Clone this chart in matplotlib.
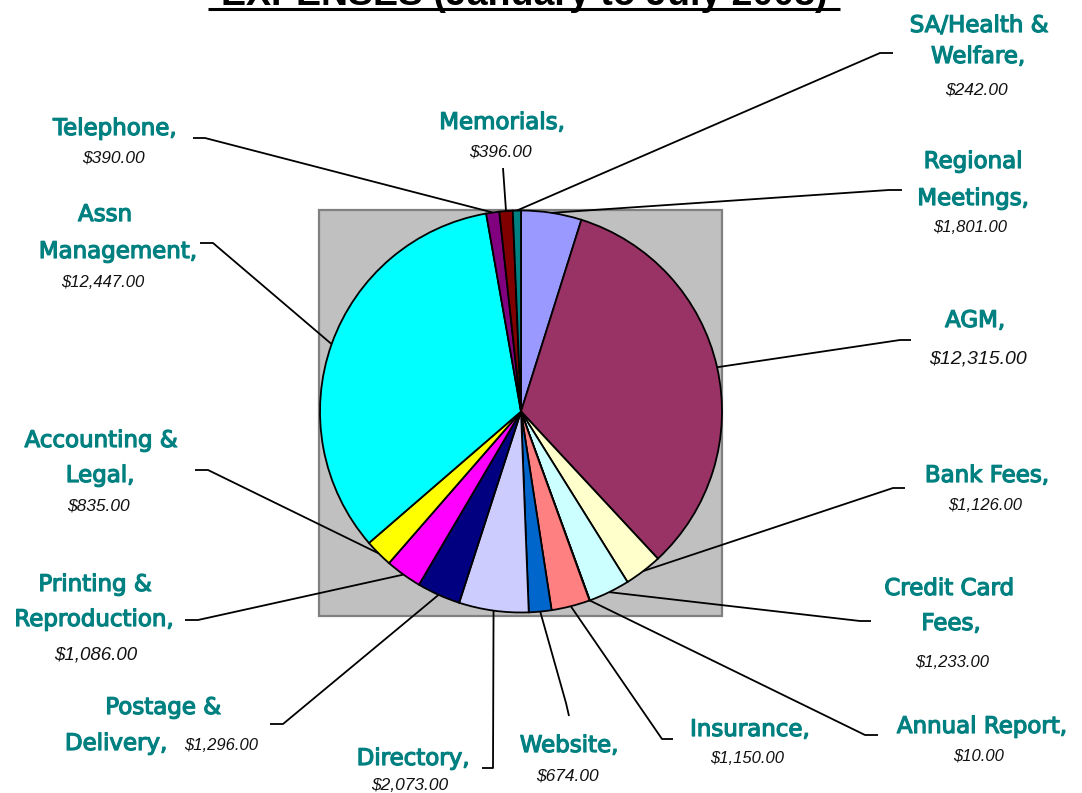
import matplotlib
matplotlib.use("Agg")
import matplotlib.pyplot as plt
from matplotlib.patches import Rectangle
import matplotlib.patheffects as pe
import numpy as np

# ---------------- data ----------------
categories = ["Regional Meetings", "AGM", "Bank Fees", "Credit Card Fees", "Annual Report",
              "Insurance", "Website", "Directory", "Postage & Delivery", "Printing & Reproduction",
              "Accounting & Legal", "Assn Management", "Telephone", "Memorials", "SA/Health & Welfare"]
amounts = [1801, 12315, 1126, 1233, 10, 1150, 674, 2073, 1296, 1086, 835, 12447, 390, 396, 242]
label_lines = [["Regional", "Meetings,"], ["AGM,"], ["Bank Fees,"], ["Credit Card", "Fees,"],
               ["Annual Report,"], ["Insurance,"], ["Website,"], ["Directory,"],
               ["Postage &", "Delivery,"], ["Printing &", "Reproduction,"], ["Accounting &", "Legal,"],
               ["Assn", "Management,"], ["Telephone,"], ["Memorials,"], ["SA/Health &", "Welfare,"]]
title = "EXPENSES (January to July 2008)"

# ---------------- style / layout (pixel coordinates, y from top) ----------------
colors = ["#9999FF", "#993366", "#FFFFCC", "#CCFFFF", "#660066", "#FF8080", "#0066CC", "#CCCCFF",
          "#000080", "#FF00FF", "#FFFF00", "#00FFFF", "#800080", "#800000", "#008080"]
W, H = 1082, 793
CX, CY, R = 521, 411.5, 201
line_pos = [[(973, 168), (973, 205)], [(975, 327)], [(987, 482)], [(949, 595), (951, 630)],
            [(982, 733)], [(750, 736)], [(569, 752)], [(413, 765)],
            [(163, 714), (116, 750)], [(95, 591), (94, 626)], [(101, 447), (100, 482)],
            [(105, 221), (118, 258)], [(115, 135)], [(502, 129)], [(979, 32), (978, 63)]]
value_pos = [(970, 232), (978, 364), (985, 510), (952, 667), (979, 760), (747, 763), (567, 780),
             (410, 790), (221, 750), (96, 659), (98, 511), (103, 287), (113, 163), (500, 157), (976, 94)]
value_size = [12, 14, 12, 12, 12, 12, 12.5, 12.5, 12, 13.5, 12.5, 12, 12.5, 12.5, 12.5]
leader_pts = [[(889, 190), (902, 190)], [(900, 340), (911, 340)], [(893, 488), (905, 488)],
              [(860, 621), (871, 621)], [(865, 735), (878, 735)], [(662, 739), (673, 739)],
              [(566, 703), (569, 716)], [(493, 768), (482, 768)], [(283, 724), (270, 724)],
              [(198, 620), (185, 620)], [(208, 470), (195, 470)], [(213, 243), (200, 243)],
              [(205, 138), (193, 138)], [(503, 168)], [(880, 53), (893, 53)]]

TEAL = "#008080"


def Y(y):
    return H - y


fig = plt.figure(figsize=(W / 100, H / 100), dpi=100)
ax = fig.add_axes([0, 0, 1, 1])

# plot area
ax.add_patch(Rectangle((319, Y(616)), 403, 406, facecolor="#C0C0C0", edgecolor="#808080",
                       linewidth=1.6, zorder=0))

wedges, _ = ax.pie(amounts, colors=colors, startangle=90, counterclock=False,
                   center=(CX, Y(CY)), radius=R,
                   wedgeprops=dict(edgecolor="black", linewidth=1.3), frame=True)
for w in wedges:
    w.set_zorder(2)

ax.set_xlim(0, W)
ax.set_ylim(0, H)
ax.set_aspect("equal")
ax.axis("off")

thick = [pe.withStroke(linewidth=0.9, foreground=TEAL)]

# labels and leader lines
for i, w in enumerate(wedges):
    th = np.deg2rad((w.theta1 + w.theta2) / 2)
    sx = CX + R * np.cos(th)
    sy = Y(CY) + R * np.sin(th)
    xs = [sx] + [p[0] for p in leader_pts[i]]
    ys = [sy] + [Y(p[1]) for p in leader_pts[i]]
    ax.plot(xs, ys, color="black", linewidth=1.3, zorder=3, solid_capstyle="butt")
    for txt, (lx, ly) in zip(label_lines[i], line_pos[i]):
        ax.text(lx, Y(ly), txt, ha="center", va="baseline", color=TEAL,
                fontsize=16.5, family="DejaVu Sans", path_effects=thick)
    vx, vy = value_pos[i]
    ax.text(vx, Y(vy), f"${amounts[i]:,.2f}", ha="center", va="baseline", color="#111111",
            fontsize=value_size[i], style="italic", family="Liberation Sans")

# title (mostly above the top edge, as in the reference)
ax.text(524, Y(5), title, ha="center", va="baseline", fontsize=27, fontweight="bold",
        family="Liberation Sans", color="black", clip_on=False)
ax.plot([208, 840], [Y(8.5), Y(8.5)], color="black", linewidth=2.2, solid_capstyle="butt")

fig.savefig("out.png", dpi=100)
